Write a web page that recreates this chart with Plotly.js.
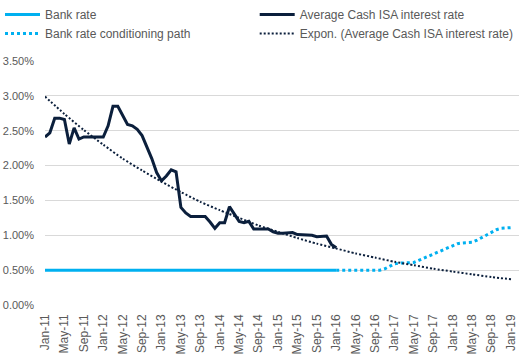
<!DOCTYPE html>
<html>
<head>
<meta charset="utf-8">
<script src="https://cdn.plot.ly/plotly-3.0.1.min.js"></script>
<style>html,body{margin:0;padding:0;background:#fff}#chart{width:519px;height:357px}</style>
</head>
<body>
<div id="chart"></div>
<script>
// Monthly categories Jan-11 .. Jan-19
var monthNames = ["Jan","Feb","Mar","Apr","May","Jun","Jul","Aug","Sep","Oct","Nov","Dec"];
var months = [];
for (var y = 11; y <= 19; y++) {
  for (var m = 0; m < 12; m++) {
    if (y === 19 && m > 0) break;
    months.push(monthNames[m] + "-" + y);
  }
}
var tickLabels = ["Jan-11","May-11","Sep-11","Jan-12","May-12","Sep-12","Jan-13","May-13","Sep-13",
  "Jan-14","May-14","Sep-14","Jan-15","May-15","Sep-15","Jan-16","May-16","Sep-16",
  "Jan-17","May-17","Sep-17","Jan-18","May-18","Sep-18","Jan-19"];

// Average Cash ISA interest rate (%), Jan-11 .. Jan-16
var cashIsa = [2.41,2.47,2.68,2.68,2.66,2.31,2.54,2.38,2.41,2.41,2.41,2.41,
  2.41,2.57,2.85,2.85,2.73,2.59,2.57,2.52,2.43,2.26,2.10,1.90,
  1.78,1.85,1.94,1.91,1.40,1.32,1.27,1.27,1.27,1.27,1.19,1.10,
  1.18,1.18,1.41,1.31,1.20,1.18,1.20,1.09,1.09,1.09,1.09,1.05,
  1.03,1.03,1.03,1.04,1.01,1.01,1.01,1.00,0.98,0.99,0.99,0.87,
  0.82];

// Bank rate (%), Jan-11 .. Jan-16
var bankRate = [0.5,0.5,0.5,0.5,0.5,0.5,0.5,0.5,0.5,0.5,0.5,0.5,
  0.5,0.5,0.5,0.5,0.5,0.5,0.5,0.5,0.5,0.5,0.5,0.5,
  0.5,0.5,0.5,0.5,0.5,0.5,0.5,0.5,0.5,0.5,0.5,0.5,
  0.5,0.5,0.5,0.5,0.5,0.5,0.5,0.5,0.5,0.5,0.5,0.5,
  0.5,0.5,0.5,0.5,0.5,0.5,0.5,0.5,0.5,0.5,0.5,0.5,
  0.5];

// Bank rate conditioning path (%), Jan-16 .. Jan-19
var condPath = [0.50,0.50,0.50,0.50,0.50,0.50,0.50,0.50,0.50,0.50,0.52,0.56,
  0.59,0.60,0.60,0.60,0.61,0.64,0.67,0.70,0.73,0.76,0.79,0.83,
  0.86,0.88,0.89,0.89,0.90,0.93,0.97,1.00,1.04,1.08,1.10,1.11,
  1.11];

// Expon. trend of Average Cash ISA rate (%), read every 4 months Jan-11 .. Jan-19
var trendVals = [2.99,2.74,2.51,2.30,2.10,1.93,1.77,1.62,1.48,1.36,1.25,1.14,
  1.05,0.96,0.88,0.81,0.74,0.68,0.62,0.57,0.52,0.48,0.44,0.40,0.37];

var navy = "#0b1f3c", blue = "#00b0f0";
var font = "Liberation Sans, Arial, sans-serif";

var traces = [
  {x: months.slice(0, bankRate.length), y: bankRate, name: "Bank rate", type: "scatter", mode: "lines",
   line: {color: blue, width: 3}, legend: "legend", legendgroup: "a"},
  {x: months.slice(0, cashIsa.length), y: cashIsa, name: "Average Cash ISA interest rate", type: "scatter", mode: "lines",
   line: {color: navy, width: 3}, legend: "legend2", legendgroup: "b"},
  {x: months.slice(60, 60 + condPath.length), y: condPath, name: "Bank rate conditioning path", type: "scatter", mode: "lines",
   line: {color: blue, width: 3, dash: "3px,3px"}, legend: "legend", legendgroup: "c"},
  {x: tickLabels, y: trendVals, name: "Expon. (Average Cash ISA interest rate)", type: "scatter", mode: "lines",
   line: {color: navy, width: 2, dash: "2px,2px", shape: "spline", smoothing: 0.6}, legend: "legend2", legendgroup: "d"}
];

var legendCommon = {orientation: "v", xanchor: "left", y: 1.25, yanchor: "top",
  itemwidth: 35, tracegroupgap: 6, traceorder: "normal",
  font: {family: font, size: 12, color: "#595959"}, bgcolor: "rgba(0,0,0,0)"};

var layout = {
  width: 519, height: 357,
  margin: {l: 45, r: 0, t: 54, b: 52},
  paper_bgcolor: "#fff", plot_bgcolor: "#fff",
  font: {family: font, size: 12, color: "#595959"},
  showlegend: true,
  legend: Object.assign({}, legendCommon, {x: -0.0956}),
  legend2: Object.assign({}, legendCommon, {x: 0.4424}),
  xaxis: {type: "category", categoryorder: "array", categoryarray: months,
    range: [0, 97.65], tickmode: "array", tickvals: tickLabels, ticktext: tickLabels,
    tickangle: -90, showgrid: false, zeroline: false, showline: false, ticks: "",
    tickfont: {family: font, size: 12, color: "#595959"}, ticklabelstandoff: 6},
  yaxis: {range: [0, 3.5], dtick: 0.5, tickformat: ".2f", ticksuffix: "%",
    showgrid: true, gridcolor: "#d9d9d9", gridwidth: 1, zeroline: false, showline: false, ticks: "",
    tickfont: {family: font, size: 11, color: "#595959"}, ticklabelstandoff: 10}
};

Plotly.newPlot("chart", traces, layout, {displayModeBar: false, staticPlot: true});
</script>
</body>
</html>
